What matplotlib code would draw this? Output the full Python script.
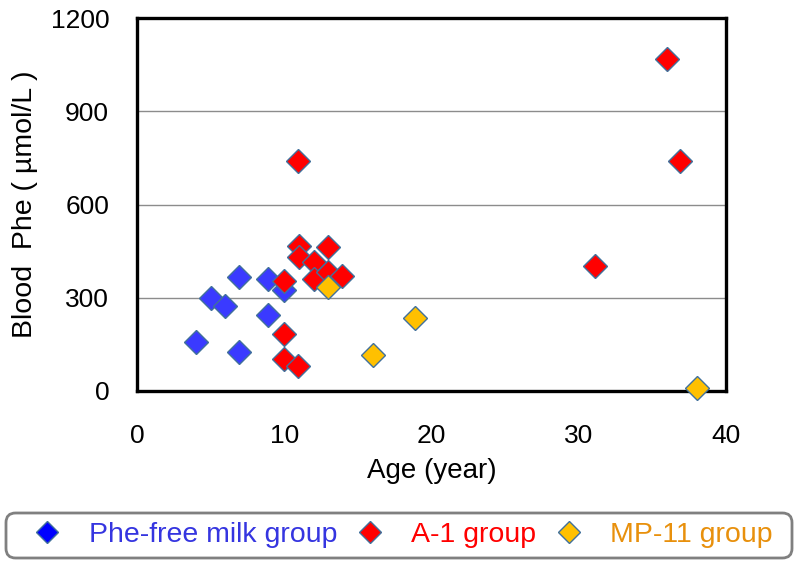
import matplotlib.pyplot as plt
from matplotlib.lines import Line2D
from matplotlib.patches import FancyBboxPatch

plt.rcParams['font.family'] = ['Liberation Sans', 'DejaVu Sans']

# Phe-free milk group
phe_free_age = [4.0, 5.0, 6.0, 6.9, 6.9, 8.9, 8.9, 10.0]
phe_free_phe = [158, 299, 273, 367, 125, 360, 245, 325]

# A-1 group
a1_age = [10.9, 10.0, 10.0, 10.0, 10.9, 11.0, 11.0, 13.0, 12.0, 12.0, 13.0, 13.9,
          31.1, 36.0, 36.9]
a1_phe = [740, 354, 183, 103, 80, 467, 432, 464, 416, 360, 383, 371,
          402, 1068, 740]

# MP-11 group
mp11_age = [13.0, 16.0, 18.9, 38.0]
mp11_phe = [335, 116, 235, 10]

labels = ['Phe-free milk group', 'A-1 group', 'MP-11 group']
face_colors = ['#3a3aff', '#ff0000', '#ffc000']
legend_faces = ['#0000ff', '#ff0000', '#ffc000']
text_colors = ['#3535e0', '#ff0000', '#e8900c']
edge = '#41719c'

W, H = 797, 565
fig = plt.figure(figsize=(W / 100, H / 100), dpi=100)
ax = fig.add_axes([0.1719, 0.308, 0.739, 0.660])

groups = [(phe_free_age, phe_free_phe), (a1_age, a1_phe), (mp11_age, mp11_phe)]
for (xs, ys), fc in zip(groups, face_colors):
    ax.plot(xs, ys, linestyle='none', marker='D', markersize=12.3,
            markerfacecolor=fc, markeredgecolor=edge, markeredgewidth=1,
            zorder=3, clip_on=False)

ax.set_xlim(0, 40)
ax.set_ylim(0, 1200)
ax.set_xticks([0, 10, 20, 30, 40])
ax.set_yticks([0, 300, 600, 900, 1200])
ax.yaxis.grid(True, color='#8c8c8c', linewidth=1)
ax.set_axisbelow(True)
for sp in ax.spines.values():
    sp.set_linewidth(2.4)
    sp.set_color('black')
ax.tick_params(axis='both', length=0, labelsize=19)
ax.tick_params(axis='y', pad=20)
ax.tick_params(axis='x', pad=24)
ax.set_xlabel('Age (year)', fontsize=20, labelpad=7)
ax.set_ylabel('Blood  Phe ( µmol/L )', fontsize=20.5, labelpad=9)

# legend box drawn separately so the padding can differ from the text spacing
frame = FancyBboxPatch((6 / W, 1 - 558 / H), 786 / W, 45 / H,
                       boxstyle='round,pad=0,rounding_size=0.012',
                       transform=fig.transFigure, facecolor='white',
                       edgecolor='#808080', linewidth=2, mutation_aspect=W / H)
fig.patches.append(frame)

handles = [Line2D([], [], linestyle='none', marker='D', markersize=11.5,
                  markerfacecolor=fc, markeredgecolor=edge, markeredgewidth=1)
           for fc in legend_faces]
fig.legend(handles, labels, loc='center left', ncol=3,
           bbox_to_anchor=(33 / W, 1 - 535 / H), borderaxespad=0, borderpad=0,
           fontsize=20.5, labelcolor=text_colors, handlelength=1.0,
           handletextpad=0.95, columnspacing=0.65, frameon=False)

fig.savefig('out.png', dpi=100)
